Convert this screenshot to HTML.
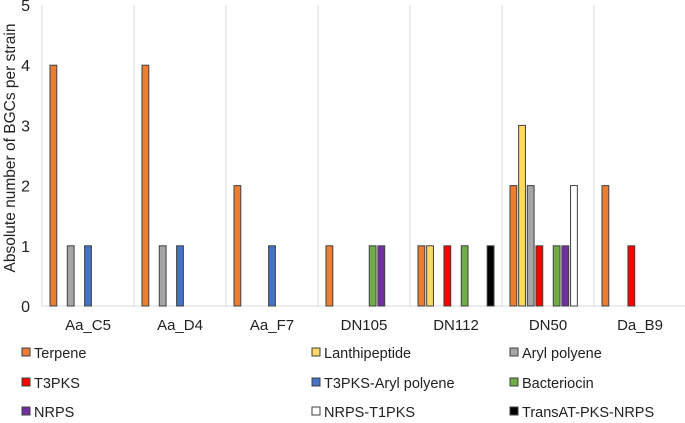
<!DOCTYPE html>
<html><head><meta charset="utf-8"><style>
body{margin:0;background:#fff;font-family:"Liberation Sans",Arial,sans-serif;}
svg text{font-family:"Liberation Sans",Arial,sans-serif;fill:#222;}
</style></head><body>
<svg id="chart" width="685" height="418" viewBox="0 0 685 418"></svg>
<script>
const categories=["Aa_C5","Aa_D4","Aa_F7","DN105","DN112","DN50","Da_B9"];
const seriesNames=["Terpene","Lanthipeptide","Aryl polyene","T3PKS","T3PKS-Aryl polyene","Bacteriocin","NRPS","NRPS-T1PKS","TransAT-PKS-NRPS"];
const seriesColors=["#ed7d31","#ffd966","#a5a5a5","#ff0000","#4472c4","#70ad47","#7030a0","#ffffff","#000000"];
const terpene=[4,4,2,1,1,2,2];
const lanthipeptide=[0,0,0,0,1,3,0];
const arylPolyene=[1,1,0,0,0,2,0];
const t3pks=[0,0,0,0,1,1,1];
const t3pksAryl=[1,1,1,0,0,0,0];
const bacteriocin=[0,0,0,1,1,1,0];
const nrps=[0,0,0,1,0,1,0];
const nrpsT1pks=[0,0,0,0,0,2,0];
const transAT=[0,0,0,0,1,0,0];
const yTicks=[0,1,2,3,4,5];
const series=[terpene,lanthipeptide,arylPolyene,t3pks,t3pksAryl,bacteriocin,nrps,nrpsT1pks,transAT];

const NS="http://www.w3.org/2000/svg";
const svg=document.getElementById('chart');
const x0=42,gw=92,y0=306,yTop=5,yMax=5;
const y=v=>y0-(v/yMax)*(y0-yTop);
const xb=(ci,si)=>x0+ci*gw+8+si*8.65;
function mk(t,a){const e=document.createElementNS(NS,t);for(const k in a)e.setAttribute(k,a[k]);svg.appendChild(e);return e;}
for(let i=0;i<=categories.length;i++){
  const l=mk('line',{x1:x0+i*gw,x2:x0+i*gw,y1:yTop,y2:y0,stroke:'#d9d9d9','stroke-width':1});
  
  
}
const base=mk('line',{x1:x0,x2:685,y1:y0,y2:y0,stroke:'#d9d9d9','stroke-width':1});


yTicks.forEach(t=>{
  const e=mk('text',{x:x0-12,y:y(t)+6,'text-anchor':'end','font-size':16});
  e.textContent=t;
  
  
});
categories.forEach((c,i)=>{
  const e=mk('text',{x:x0+i*gw+gw/2,y:330,'text-anchor':'middle','font-size':15});
  e.textContent=c;
  
  
});
const yt=mk('text',{x:0,y:0,'text-anchor':'middle','font-size':15.5,transform:'translate(15,148) rotate(-90)'});
yt.textContent='Absolute number of BGCs per strain';


series.forEach((s,si)=>{
  s.forEach((v,ci)=>{
    if(!v)return;
    const r=mk('rect',{x:xb(ci,si),y:y(v),width:6.8,height:y0-y(v),fill:seriesColors[si],stroke:'#404040','stroke-width':1});
    
    
  });
});
const lx=[22,312,510],ly=[353,383,412];
seriesNames.forEach((n,i)=>{
  const cx=lx[i%3],cy=ly[Math.floor(i/3)];
  const g=document.createElementNS(NS,'g');svg.appendChild(g);
  
  
  const r=document.createElementNS(NS,'rect');
  r.setAttribute('x',cx);r.setAttribute('y',cy-5);r.setAttribute('width',8);r.setAttribute('height',8);
  r.setAttribute('fill',seriesColors[i]);r.setAttribute('stroke','#404040');
  g.appendChild(r);
  const t=document.createElementNS(NS,'text');
  t.setAttribute('x',cx+12);t.setAttribute('y',cy+5);t.setAttribute('font-size',14.5);
  t.textContent=n;g.appendChild(t);
});
</script>
</body></html>
